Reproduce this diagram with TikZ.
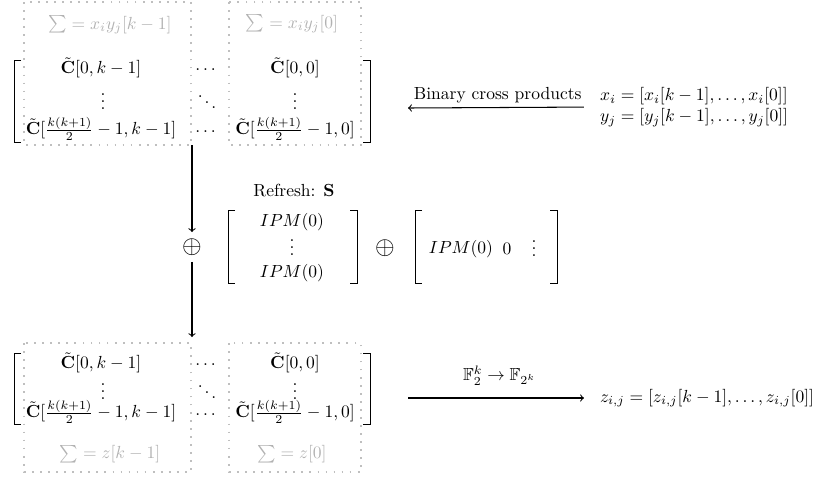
\documentclass[tikz,border=0pt]{standalone}
\usepackage{amsmath,amssymb}
\usepackage{tikz}
\usetikzlibrary{positioning,calc}

\begin{document}
\begin{tikzpicture}[x=0.571pt, y=-0.571pt,
    every node/.style={inner sep=1pt},
    faded/.style={text=black!30},
    dotbox/.style={draw=black!25, line width=1pt, dash pattern=on 1pt off 3.6pt},
    brack/.style={line width=0.5pt},
    conn/.style={->, line width=0.6pt},
    oplusnode/.style={inner sep=3.5pt, font=\Large}]
  \useasboundingbox (0,0) rectangle (815,480);

  % Top matrix
  \draw[dotbox] (24,2) rectangle (191,145);
  \draw[dotbox] (229,2) rectangle (361,145);
  \node[faded] (sumTA) at (110,25) {$\sum = x_iy_j[k-1]$};
  \node[faded] (sumTB) at (292,24) {$\sum = x_iy_j[0]$};
  \node (cTA) at (101,68) {$\tilde{\mathbf{C}}[0,k-1]$};
  \node (cTB) at (207,70) {$\dots$};
  \node (cTC) at (295,68) {$\tilde{\mathbf{C}}[0,0]$};
  \node (vTA) at (103,96) {$\vdots$};
  \node (vTB) at (207,97) {$\ddots$};
  \node (vTC) at (295,96) {$\vdots$};
  \node (rTA) at (101,129) {$\tilde{\mathbf{C}}[\frac{k(k+1)}{2}-1,k-1]$};
  \node (rTB) at (207,132) {$\dots$};
  \node (rTC) at (295,129) {$\tilde{\mathbf{C}}[\frac{k(k+1)}{2}-1,0]$};
  \draw[brack] (21,60) -- (14,60) -- (14,142) -- (21,142);
  \draw[brack] (363,60) -- (370,60) -- (370,142) -- (363,142);

  % Inputs
  \node[anchor=west, align=left] (inputs) at (598,107)
    {$x_i = [x_i[k-1],\dots,x_i[0]]$\\$y_j = [y_j[k-1],\dots,y_j[0]]$};
  \coordinate (crossEnd) at (408,108);
  \draw[conn, shorten <=8pt] (inputs.west) -- (crossEnd)
    node[midway, above=1.5pt, xshift=-3pt] {Binary cross products};

  % Refresh
  \coordinate (topOut) at (192,145);
  \node[oplusnode] (xorA) at (192,247) {$\oplus$};
  \draw[conn] (topOut) -- (xorA.north);
  \node (refresh) at (294,191) {Refresh: $\mathbf{S}$};
  \node (ipmA) at (292,222) {$IPM(0)$};
  \node (ipmV) at (292,242) {$\vdots$};
  \node (ipmB) at (292,273) {$IPM(0)$};
  \draw[brack] (235,210) -- (228,210) -- (228,283) -- (235,283);
  \draw[brack] (350,210) -- (357,210) -- (357,283) -- (350,283);
  \node[oplusnode] (xorB) at (385,248) {$\oplus$};
  \node (ipmC) at (461,249) {$IPM(0)$};
  \node (zeroC) at (507,249) {$0$};
  \node (vdotC) at (534,243) {$\vdots$};
  \draw[brack] (422,210) -- (415,210) -- (415,283) -- (422,283);
  \draw[brack] (550,210) -- (557,210) -- (557,283) -- (550,283);

  % Bottom matrix
  \coordinate (botTop) at (192,343);
  \draw[conn, shorten >=3.4pt] (xorA.south) -- (botTop);
  \draw[dotbox] (24,343) rectangle (191,472);
  \draw[dotbox] (229,343) rectangle (361,472);
  \node (cBA) at (101,363) {$\tilde{\mathbf{C}}[0,k-1]$};
  \node (cBB) at (207,365) {$\dots$};
  \node (cBC) at (295,363) {$\tilde{\mathbf{C}}[0,0]$};
  \node (vBA) at (103,386) {$\vdots$};
  \node (vBB) at (207,387) {$\ddots$};
  \node (vBC) at (295,386) {$\vdots$};
  \node (rBA) at (101,412) {$\tilde{\mathbf{C}}[\frac{k(k+1)}{2}-1,k-1]$};
  \node (rBB) at (207,415) {$\dots$};
  \node (rBC) at (295,412) {$\tilde{\mathbf{C}}[\frac{k(k+1)}{2}-1,0]$};
  \node[faded] (sumBA) at (110,454) {$\sum = z[k-1]$};
  \node[faded] (sumBB) at (292,454) {$\sum = z[0]$};
  \draw[brack] (21,353) -- (14,353) -- (14,424) -- (21,424);
  \draw[brack] (363,353) -- (370,353) -- (370,424) -- (363,424);

  % Output
  \coordinate (mapStart) at (408,398);
  \node[anchor=west] (zout) at (598,398) {$z_{i,j} = [z_{i,j}[k-1],\dots,z_{i,j}[0]]$};
  \draw[conn, shorten >=8pt] (mapStart) -- (zout.west)
    node[midway, above=6pt, xshift=-2pt] {$\mathbb{F}_2^k \rightarrow \mathbb{F}_{2^k}$};
\end{tikzpicture}
\end{document}
